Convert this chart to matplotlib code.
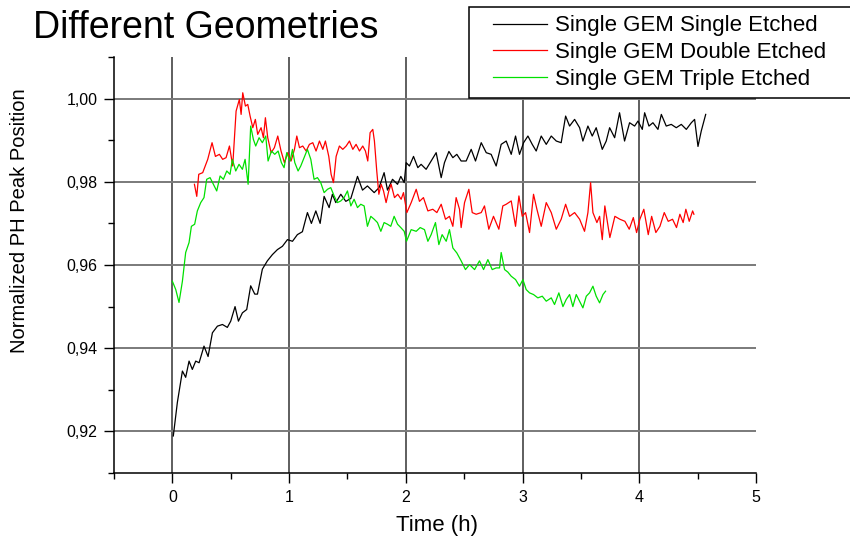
import matplotlib
matplotlib.use("Agg")
import matplotlib.pyplot as plt
from matplotlib.ticker import MultipleLocator, FuncFormatter
from matplotlib.legend_handler import HandlerLine2D

plt.rcParams['font.family'] = ['Liberation Sans', 'DejaVu Sans']

# Single GEM Single Etched (black)
t_single = [0.008, 0.043, 0.086, 0.114, 0.143, 0.171, 0.2, 0.229, 0.271, 0.306,
            0.343, 0.386, 0.429, 0.471, 0.5, 0.537, 0.566, 0.6, 0.637, 0.671,
            0.706, 0.729, 0.771, 0.814, 0.857, 0.9, 0.943, 0.986, 1.029, 1.071,
            1.114, 1.157, 1.191, 1.229, 1.266, 1.3, 1.343, 1.371, 1.4, 1.443,
            1.486, 1.529, 1.586, 1.629, 1.671, 1.729, 1.771, 1.814, 1.843, 1.886,
            1.929, 1.957, 1.986, 2.003, 2.031, 2.066, 2.103, 2.131, 2.174, 2.217,
            2.26, 2.303, 2.331, 2.369, 2.403, 2.437, 2.474, 2.517, 2.56, 2.597,
            2.646, 2.689, 2.731, 2.774, 2.817, 2.86, 2.903, 2.94, 2.974, 3.009,
            3.046, 3.083, 3.117, 3.16, 3.203, 3.246, 3.289, 3.331, 3.369, 3.403,
            3.446, 3.489, 3.517, 3.56, 3.597, 3.631, 3.683, 3.717, 3.746, 3.789,
            3.831, 3.874, 3.917, 3.96, 3.989, 4.026, 4.046, 4.083, 4.117, 4.16,
            4.189, 4.231, 4.274, 4.317, 4.36, 4.403, 4.446, 4.474, 4.503, 4.531,
            4.569]
v_single = [0.9189, 0.927, 0.9345, 0.933, 0.9369, 0.9349, 0.9369, 0.9365, 0.9405, 0.938,
            0.9437, 0.9453, 0.9457, 0.945, 0.9465, 0.950, 0.9465, 0.9485, 0.9493, 0.955,
            0.953, 0.953, 0.959, 0.961, 0.9625, 0.9637, 0.9645, 0.9661, 0.9657, 0.9673,
            0.968, 0.9726, 0.970, 0.973, 0.970, 0.9765, 0.9738, 0.977, 0.975, 0.977,
            0.9753, 0.976, 0.9813, 0.978, 0.979, 0.9774, 0.9786, 0.9822, 0.978, 0.9806,
            0.9794, 0.9813, 0.9798, 0.9846, 0.9838, 0.9861, 0.9834, 0.9842, 0.9830, 0.9850,
            0.9870, 0.9810, 0.9846, 0.9873, 0.9858, 0.9866, 0.9850, 0.9850, 0.9878, 0.9850,
            0.9894, 0.9870, 0.9866, 0.9838, 0.9890, 0.9898, 0.9866, 0.9910, 0.9866, 0.9894,
            0.9910, 0.9890, 0.9874, 0.9910, 0.9890, 0.9910, 0.9898, 0.9894, 0.9958, 0.9934,
            0.9950, 0.9930, 0.9898, 0.9934, 0.9910, 0.9930, 0.9878, 0.9898, 0.9930, 0.9906,
            0.9966, 0.9898, 0.9942, 0.9934, 0.9946, 0.9926, 0.9966, 0.9934, 0.9942, 0.9926,
            0.9962, 0.9934, 0.9938, 0.9930, 0.9938, 0.9926, 0.9942, 0.9950, 0.9885, 0.9922,
            0.9962]

# Single GEM Double Etched (red)
t_double = [0.189, 0.209, 0.226, 0.26, 0.303, 0.34, 0.369, 0.403, 0.431, 0.46,
            0.489, 0.517, 0.546, 0.574, 0.589, 0.603, 0.626, 0.646, 0.666, 0.689,
            0.711, 0.731, 0.76, 0.78, 0.797, 0.817, 0.846, 0.874, 0.903, 0.931,
            0.96, 0.989, 1.017, 1.046, 1.066, 1.089, 1.117, 1.146, 1.174, 1.203,
            1.231, 1.26, 1.289, 1.311, 1.34, 1.36, 1.38, 1.403, 1.431, 1.46,
            1.489, 1.517, 1.546, 1.574, 1.603, 1.631, 1.654, 1.674, 1.694, 1.717,
            1.731, 1.751, 1.769, 1.789, 1.809, 1.831, 1.854, 1.874, 1.903, 1.931,
            1.96, 1.98, 2.009, 2.046, 2.089, 2.117, 2.151, 2.189, 2.231, 2.266,
            2.303, 2.34, 2.374, 2.403, 2.431, 2.46, 2.474, 2.503, 2.54, 2.569,
            2.603, 2.646, 2.674, 2.711, 2.751, 2.797, 2.831, 2.86, 2.903, 2.94,
            2.969, 2.997, 3.026, 3.06, 3.094, 3.123, 3.16, 3.203, 3.246, 3.289,
            3.331, 3.369, 3.403, 3.446, 3.489, 3.531, 3.56, 3.583, 3.603, 3.637,
            3.66, 3.683, 3.705, 3.748, 3.791, 3.834, 3.877, 3.914, 3.949, 3.977,
            4.005, 4.039, 4.077, 4.106, 4.142, 4.177, 4.214, 4.248, 4.285, 4.319,
            4.348, 4.376, 4.399, 4.428, 4.457, 4.468]
v_double = [0.9794, 0.9765, 0.9818, 0.9822, 0.9854, 0.9894, 0.9861, 0.9866, 0.9854, 0.9858,
            0.9886, 0.9838, 0.997, 0.9998, 0.9962, 1.0014, 0.9982, 0.9986, 0.9958, 0.993,
            0.995, 0.9914, 0.993, 0.9906, 0.9954, 0.9906, 0.987, 0.9882, 0.991, 0.9874,
            0.9846, 0.987, 0.985, 0.9878, 0.991, 0.9882, 0.9886, 0.9874, 0.989, 0.9894,
            0.9874, 0.9898, 0.9878, 0.9898, 0.9861, 0.9818, 0.9798, 0.9861, 0.9886, 0.9878,
            0.9886, 0.9898, 0.9878, 0.989, 0.9874, 0.9886, 0.9874, 0.985, 0.9918, 0.9926,
            0.9898, 0.9826, 0.977, 0.9794, 0.9778, 0.975, 0.9778, 0.9794, 0.9762, 0.977,
            0.9758, 0.9774, 0.9726, 0.975, 0.9782, 0.9753, 0.9762, 0.973, 0.9734, 0.9726,
            0.9746, 0.971, 0.9717, 0.9693, 0.9762, 0.9734, 0.969, 0.975, 0.9782, 0.9726,
            0.9722, 0.9726, 0.9742, 0.9686, 0.9717, 0.9686, 0.9742, 0.9746, 0.9754, 0.9693,
            0.9766, 0.9717, 0.9726, 0.9678, 0.977, 0.9734, 0.9693, 0.975, 0.9726, 0.9686,
            0.971, 0.9746, 0.9717, 0.9726, 0.971, 0.9681, 0.9726, 0.9798, 0.9726, 0.9702,
            0.9717, 0.9661, 0.9742, 0.9666, 0.9717, 0.971, 0.9705, 0.9686, 0.9714, 0.9678,
            0.971, 0.9734, 0.9673, 0.9717, 0.9678, 0.9693, 0.9726, 0.9705, 0.971, 0.969,
            0.9722, 0.9702, 0.9734, 0.9705, 0.973, 0.9722]

# Single GEM Triple Etched (green)
t_triple = [0.0, 0.029, 0.057, 0.086, 0.114, 0.143, 0.163, 0.191, 0.214, 0.243,
            0.271, 0.294, 0.323, 0.351, 0.38, 0.409, 0.437, 0.466, 0.494, 0.514,
            0.543, 0.571, 0.6, 0.623, 0.649, 0.671, 0.694, 0.714, 0.743, 0.771,
            0.8, 0.82, 0.849, 0.877, 0.906, 0.934, 0.957, 0.98, 1.009, 1.029,
            1.049, 1.077, 1.1, 1.129, 1.157, 1.186, 1.214, 1.243, 1.271, 1.3,
            1.329, 1.357, 1.386, 1.414, 1.443, 1.471, 1.5, 1.529, 1.557, 1.586,
            1.614, 1.643, 1.671, 1.7, 1.729, 1.757, 1.786, 1.814, 1.843, 1.871,
            1.9, 1.929, 1.957, 1.986, 2.006, 2.046, 2.089, 2.123, 2.16, 2.189,
            2.217, 2.254, 2.283, 2.311, 2.346, 2.374, 2.403, 2.437, 2.474, 2.511,
            2.546, 2.589, 2.631, 2.666, 2.703, 2.74, 2.774, 2.803, 2.817, 2.846,
            2.874, 2.903, 2.94, 2.974, 3.003, 3.031, 3.06, 3.094, 3.131, 3.169,
            3.203, 3.246, 3.274, 3.311, 3.346, 3.374, 3.403, 3.431, 3.46, 3.489,
            3.517, 3.546, 3.574, 3.603, 3.631, 3.66, 3.689, 3.711]
v_triple = [0.9561, 0.9541, 0.951, 0.9561, 0.963, 0.9654, 0.9693, 0.9698, 0.973, 0.975,
            0.9762, 0.9806, 0.981, 0.9794, 0.9778, 0.9814, 0.9806, 0.9826, 0.9818, 0.9854,
            0.9826, 0.9842, 0.983, 0.9854, 0.9794, 0.9934, 0.9902, 0.9886, 0.9906, 0.9894,
            0.991, 0.985, 0.9874, 0.9866, 0.9874, 0.9846, 0.9834, 0.987, 0.985, 0.9878,
            0.9846, 0.9826, 0.9838, 0.9858, 0.9878, 0.9854, 0.9806, 0.981, 0.9798, 0.9774,
            0.9782, 0.9786, 0.9766, 0.975, 0.9754, 0.9762, 0.9778, 0.9742, 0.9758, 0.9738,
            0.9746, 0.9742, 0.9693, 0.9717, 0.971, 0.9702, 0.9681, 0.9702, 0.9698, 0.9693,
            0.9717, 0.9698, 0.969, 0.9681, 0.9657, 0.9685, 0.9681, 0.969, 0.9685, 0.9657,
            0.9673, 0.9702, 0.9649, 0.9673, 0.9657, 0.9685, 0.9641, 0.9629, 0.961, 0.9589,
            0.9601, 0.9589, 0.961, 0.9589, 0.9613, 0.9589, 0.9593, 0.9593, 0.963, 0.9589,
            0.9583, 0.9573, 0.9565, 0.9549, 0.9565, 0.9541, 0.9533, 0.9529, 0.9521, 0.9525,
            0.9513, 0.9521, 0.9505, 0.9533, 0.95, 0.9517, 0.9529, 0.95, 0.9529, 0.9513,
            0.9497, 0.9525, 0.9533, 0.9549, 0.9525, 0.9509, 0.9529, 0.9537]

labels = ['Single GEM Single Etched', 'Single GEM Double Etched', 'Single GEM Triple Etched']
colors = ['black', '#ff0000', '#00e000']

fig = plt.figure(figsize=(8.5, 5.39), dpi=100)
ax = fig.add_axes([114 / 850, 1 - 473 / 539, (756 - 114) / 850, (473 - 57) / 539])

ax.plot(t_single, v_single, color=colors[0], lw=0.9, label=labels[0])
ax.plot(t_double, v_double, color=colors[1], lw=0.9, label=labels[1])
ax.plot(t_triple, v_triple, color=colors[2], lw=0.9, label=labels[2])

ax.set_xlim(-0.5, 5)
ax.set_ylim(0.91, 1.01)
ax.set_xticks(range(6))
ax.xaxis.set_minor_locator(MultipleLocator(0.5))
ax.set_yticks([0.92, 0.94, 0.96, 0.98, 1.00])
ax.yaxis.set_minor_locator(MultipleLocator(0.01))
ax.yaxis.set_major_formatter(FuncFormatter(lambda v, p: f"{v:.2f}".replace('.', ',')))

ax.grid(axis='x', which='major', color='#333333', lw=1.1)
ax.grid(axis='y', which='major', color='#7a7a7a', lw=1.4)
ax.xaxis.get_gridlines()[-1].set_visible(False)
ax.set_axisbelow(True)

for s in ['top', 'right']:
    ax.spines[s].set_visible(False)
for s in ['left', 'bottom']:
    ax.spines[s].set_linewidth(1.1)

ax.tick_params(which='major', direction='out', length=7, width=1, labelsize=11.5, pad=5)
ax.tick_params(which='minor', direction='out', length=4, width=1)

ax.set_xlabel('Time (h)', fontsize=16)
ax.set_ylabel('Normalized PH Peak Position', fontsize=14.5)
ax.xaxis.set_label_coords(0.503, -0.1)
ax.yaxis.set_label_coords(-0.133, 0.606)

fig.text(33 / 850, 1 - 38 / 539, 'Different Geometries', fontsize=27, va='baseline')

# legend box runs off the right edge, as in the original
leg = fig.legend(loc='upper left', bbox_to_anchor=(469 / 850, 1 - 7 / 539, (920 - 469) / 850, 0),
                 mode='expand', borderaxespad=0, fontsize=16, fancybox=False, framealpha=1,
                 edgecolor='black', handlelength=3.12, handletextpad=0.36,
                 labelspacing=0.25, borderpad=0.38,
                 handler_map={matplotlib.lines.Line2D: HandlerLine2D(xpad=0.7)})
leg.get_frame().set_linewidth(1.1)

fig.savefig('out.png', dpi=100)
